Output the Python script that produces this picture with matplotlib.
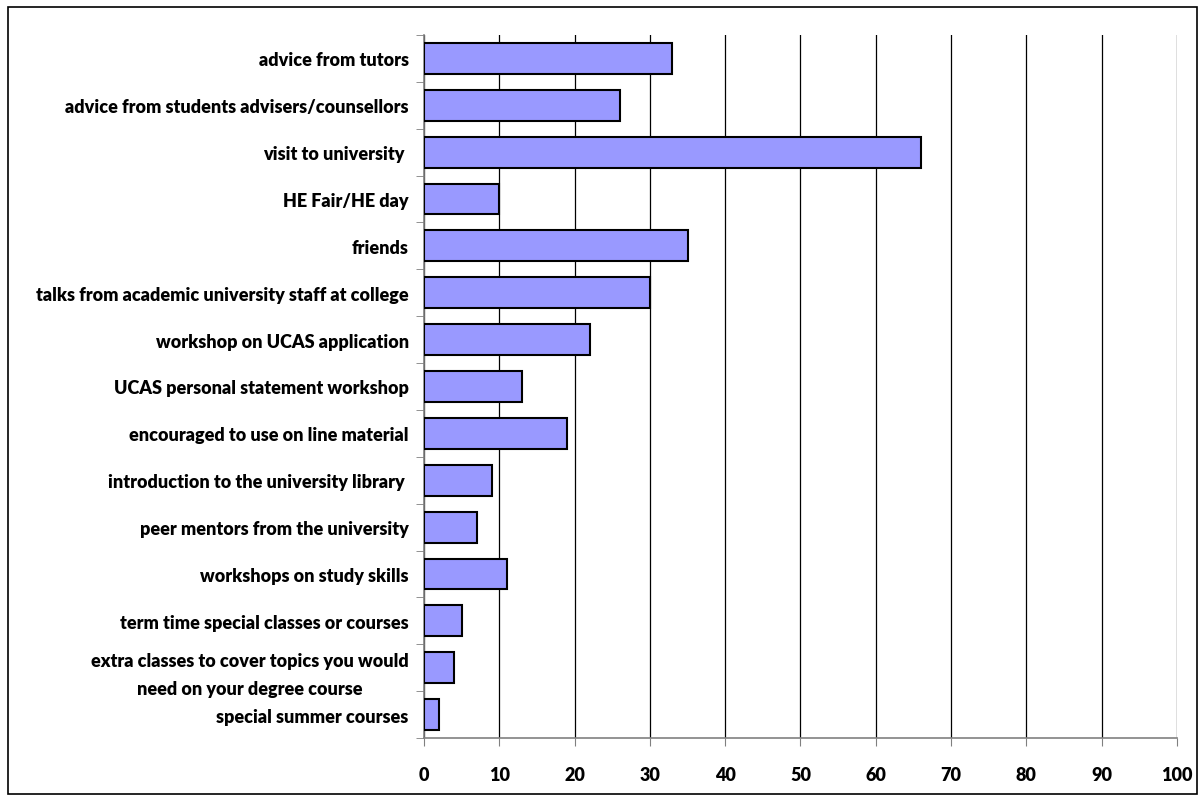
from matplotlib import pyplot as plt
from matplotlib.patches import Rectangle
import numpy as np

## Sources of advice - horizontal bar chart

labels = ['advice from tutors',
          'advice from students advisers/counsellors',
          'visit to university ',
          'HE Fair/HE day',
          'friends',
          'talks from academic university staff at college',
          'workshop on UCAS application',
          'UCAS personal statement workshop',
          'encouraged to use on line material',
          'introduction to the university library ',
          'peer mentors from the university',
          'workshops on study skills',
          'term time special classes or courses',
          'extra classes to cover topics you would\nneed on your degree course',
          'special summer courses']
values = [33, 26, 66, 10, 35, 30, 22, 13, 19, 9, 7, 11, 5, 4, 2]
xticks = [0, 10, 20, 30, 40, 50, 60, 70, 80, 90, 100]

plt.rcParams['font.family'] = ['Lato', 'DejaVu Sans']
plt.rcParams['font.weight'] = 800

fig = plt.figure(figsize=(12, 8.03), dpi=100)
ax = fig.add_axes([424/1200, 1-739/803, (1177-424)/1200, (739-36)/803])

n = len(labels)
y = np.arange(n)
ax.barh(y, values, height=0.66, color='#9999FF', edgecolor='black', linewidth=1.5, zorder=3)

ax.set_ylim(n - 0.5, -0.5)
ax.set_xlim(0, 100)
ax.set_xticks(xticks)
ax.set_xticklabels([str(t) for t in xticks], fontsize=13, fontweight=800)
ax.set_yticks(y)
ax.set_yticklabels(labels, fontsize=13, fontweight=800, linespacing=1.75, multialignment='center')
ax.set_yticks(np.arange(n + 1) - 0.5, minor=True)

ax.tick_params(axis='y', which='major', length=0, pad=11)
ax.tick_params(axis='y', which='minor', length=6, color='#808080', direction='out')
ax.tick_params(axis='x', length=6, color='#808080', direction='out', pad=14)

ax.grid(axis='x', color='black', linewidth=0.9, zorder=0)
for s in ['top', 'right']:
	ax.spines[s].set_visible(False)
for s in ['left', 'bottom']:
	ax.spines[s].set_color('#808080')
	ax.spines[s].set_linewidth(1.2)

fig.patches.append(Rectangle((8/1200, 8/803), 1189/1200, 787/803, transform=fig.transFigure,
                             fill=False, edgecolor='black', linewidth=1.2))

fig.savefig('out.png', dpi=100)
